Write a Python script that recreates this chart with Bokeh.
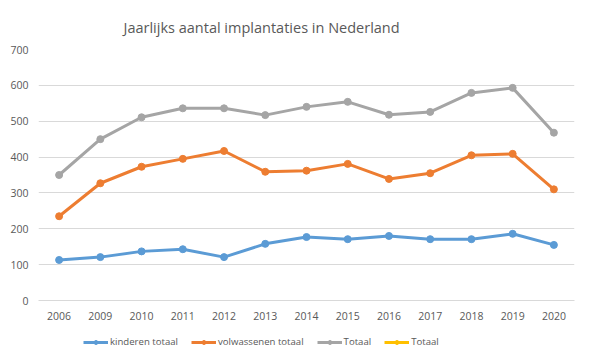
from bokeh.plotting import figure
from bokeh.layouts import column
from bokeh.models import Legend, LegendItem, FactorRange, Range1d, SingleIntervalTicker
from bokeh.embed import file_html
from bokeh.resources import INLINE

nan = float("nan")
years = ["2006", "2009", "2010", "2011", "2012", "2013", "2014", "2015", "2016", "2017", "2018", "2019", "2020"]
kinderen = [113, 121, 137, 143, 121, 158, 177, 171, 180, 171, 171, 186, 155]
volwassenen = [235, 327, 373, 395, 417, 359, 362, 381, 339, 355, 405, 409, 310]
totaal = [350, 450, 511, 536, 536, 517, 540, 554, 518, 526, 579, 593, 468]
# second "Totaal" series: listed in the legend, no visible values
totaal2 = [nan, nan, nan, nan, nan, nan, nan, nan, nan, nan, nan, nan, nan]

FONT = "Open Sans"
TXT = "#595959"

p = figure(x_range=FactorRange(*years), y_range=Range1d(0, 700),
           frame_width=536, frame_height=251,
           output_backend="svg", toolbar_location=None,
           title="Jaarlijks aantal implantaties in Nederland",
           min_border_left=38, min_border_right=7, min_border_top=49, min_border_bottom=30)
p.title.align = "left"
p.title.offset = 85
p.title.text_font = FONT
p.title.text_font_size = "14.5px"
p.title.text_font_style = "normal"
p.title.text_color = TXT
p.title.standoff = 26
p.outline_line_color = None
p.background_fill_color = "white"
p.border_fill_color = "white"

p.yaxis.ticker = SingleIntervalTicker(interval=100)
p.ygrid.grid_line_color = "#D9D9D9"
p.xgrid.grid_line_color = None
for ax in (p.xaxis[0], p.yaxis[0]):
    ax.major_tick_line_color = None
    ax.minor_tick_line_color = None
    ax.major_label_text_font = FONT
    ax.major_label_text_font_size = "10.5px"
    ax.major_label_text_color = TXT
p.yaxis.axis_line_color = None
p.xaxis.axis_line_color = "#D9D9D9"
p.yaxis.major_label_standoff = 4
p.xaxis.major_label_standoff = 5

series = [(kinderen, "#5B9BD5", "kinderen totaal"),
          (volwassenen, "#ED7D31", "volwassenen totaal"),
          (totaal, "#A5A5A5", "Totaal"),
          (totaal2, "#FFC000", "Totaal")]

# legend strip as a separate figure below the chart (its value range lies
# outside the data, so only the legend is visible there)
lg = figure(x_range=FactorRange(*years), y_range=Range1d(1000, 1001),
            frame_width=581, frame_height=32,
            output_backend="svg", toolbar_location=None,
            min_border_left=0, min_border_right=0, min_border_top=0, min_border_bottom=0)
lg.axis.visible = False
lg.grid.grid_line_color = None
lg.outline_line_color = None
lg.border_fill_color = "white"

items = []
for vals, col, name in series:
    p.line(years, vals, line_color=col, line_width=3)
    p.scatter(years, vals, size=7, fill_color=col, line_color=col)
    l = lg.line(years, vals, line_color=col, line_width=3)
    c = lg.scatter(years, vals, size=7, fill_color=col, line_color=col)
    items.append(LegendItem(label=name, renderers=[l, c]))

leg = Legend(items=items, orientation="horizontal", location=(83, 14),
             label_text_font=FONT, label_text_font_size="9.6px", label_text_color=TXT,
             glyph_width=25, glyph_height=10, label_standoff=2, spacing=13,
             label_height=12,
             border_line_color=None, background_fill_alpha=0, margin=0, padding=4)
lg.add_layout(leg, "center")

page = column(p, lg, spacing=0)
open("out.html", "w").write(file_html(page, INLINE))
